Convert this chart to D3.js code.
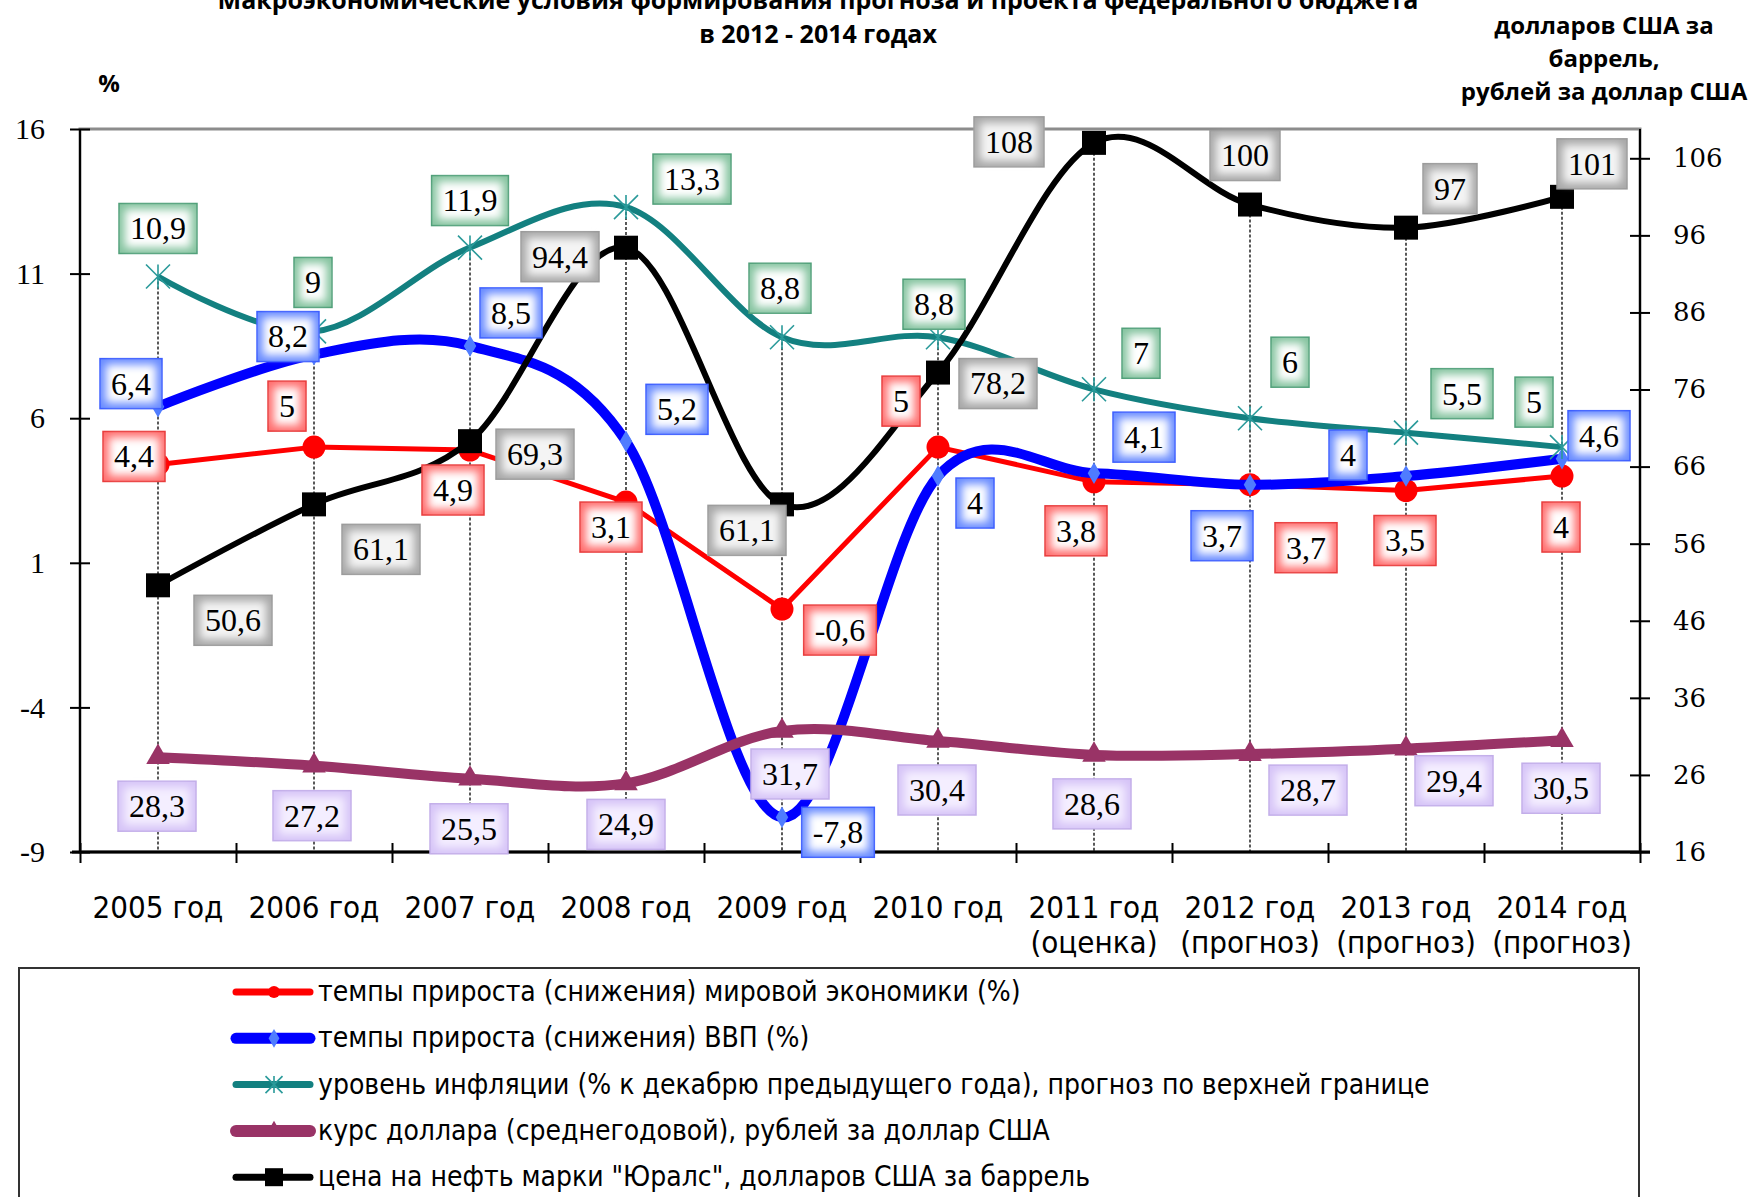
<!DOCTYPE html>
<html>
<head>
<meta charset="utf-8">
<script src="https://cdn.jsdelivr.net/npm/d3@7"></script>
<style>
  body { margin: 0; background: #fff; }
  svg { display: block; }
</style>
</head>
<body>
<svg id="chart" width="1758" height="1197"></svg>
<script>
// categories and values
const years = ['2005 год', '2006 год', '2007 год', '2008 год', '2009 год', '2010 год', '2011 год', '2012 год', '2013 год', '2014 год'];
const yearNotes = ['', '', '', '', '', '', '(оценка)', '(прогноз)', '(прогноз)', '(прогноз)'];

const worldGrowth = [4.4, 5, 4.9, 3.1, -0.6, 5, 3.8, 3.7, 3.5, 4];
const gdpGrowth   = [6.4, 8.2, 8.5, 5.2, -7.8, 4, 4.1, 3.7, 4, 4.6];
const inflation   = [10.9, 9, 11.9, 13.3, 8.8, 8.8, 7, 6, 5.5, 5];
const usdRate     = [28.3, 27.2, 25.5, 24.9, 31.7, 30.4, 28.6, 28.7, 29.4, 30.5];
const uralsPrice  = [50.6, 61.1, 69.3, 94.4, 61.1, 78.2, 108, 100, 97, 101];

const leftTicks  = [-9, -4, 1, 6, 11, 16];
const rightTicks = [16, 26, 36, 46, 56, 66, 76, 86, 96, 106];

const legendNames = [
  'темпы прироста  (снижения) мировой экономики (%)',
  'темпы прироста (снижения) ВВП (%)',
  'уровень инфляции (% к декабрю предыдущего года), прогноз по верхней границе',
  'курс доллара (среднегодовой), рублей за доллар США',
  'цена на нефть марки "Юралс", долларов США за баррель'
];

// where each value box sits relative to its point (px)
const redOff    = [[-24,-8],[-27,-41],[-17,40],[-15,25],[58,21],[-37,-46],[-18,49],[56,63],[-1,50],[-1,51]];
const blueOff   = [[-27,-23],[-26,-18],[41,-33],[51,-32],[56,15],[37,27],[50,-36],[-28,51],[-58,-21],[37,-23]];
const greenOff  = [[0,-48],[-1,-49],[0,-47],[66,-28],[-2,-49],[-4,-33],[47,-36],[40,-56],[56,-39],[-28,-45]];
const purpleOff = [[-1,49],[-2,50],[-1,50],[0,41],[8,43],[-1,49],[-2,49],[58,36],[48,32],[-1,48]];
const grayOff   = [[75,35],[67,45],[65,13],[-66,9],[-35,26],[60,11],[-85,-1],[-5,-49],[44,-39],[30,-33]];

const serifFont = "'Liberation Serif', 'Times New Roman', serif";
const narrowFont = "'Liberation Sans Narrow', 'DejaVu Sans Condensed', 'Roboto', sans-serif";
const boldFont = "'Open Sans', 'DejaVu Sans', sans-serif";

const svg = d3.select('#chart');
const plotL = 80, plotR = 1640, plotT = 129, plotB = 852;

const x = d3.scaleBand().domain(years).range([plotL, plotR]);
const xb = d3.scaleLinear().domain([0, years.length]).range([plotL, plotR]);
const yL = d3.scaleLinear().domain([-9, 16]).range([plotB, plotT]);
const yR = d3.scaleLinear().domain([16, 109.8]).range([plotB, plotT]);
const cx = i => x(years[i]) + x.bandwidth() / 2;

// star marker like excel: x plus vertical stroke
function starPath(s) {
  const h = s / 2;
  return `M${-h},${-h}L${h},${h}M${-h},${h}L${h},${-h}M0,${-h}L0,${h}`;
}

const series = [
  {values: worldGrowth, y: yL, color: '#ff0000', width: 5, curve: d3.curveLinear,
   marker: 'circle', mcolor: '#ff0000', off: redOff, box: 'red', lw: 7},
  {values: gdpGrowth, y: yL, color: '#0000ff', width: 10, curve: d3.curveCatmullRom.alpha(0),
   marker: 'diamond', mcolor: '#4f7cff', off: blueOff, box: 'blue', lw: 11},
  {values: inflation, y: yL, color: '#138080', width: 6, curve: d3.curveCatmullRom.alpha(0),
   marker: 'star', mcolor: '#2a9a9a', off: greenOff, box: 'green', lw: 7},
  {values: usdRate, y: yR, color: '#993366', width: 10, curve: d3.curveCatmullRom.alpha(0),
   marker: 'triangle', mcolor: '#993366', off: purpleOff, box: 'purple', lw: 12},
  {values: uralsPrice, y: yR, color: '#000000', width: 6, curve: d3.curveCatmullRom.alpha(0),
   marker: 'square', mcolor: '#000000', off: grayOff, box: 'gray', lw: 7}
];

const boxStyles = {
  red:    {edge: '#ff7070', stroke: '#e83a3a', inner: '#ffffff'},
  blue:   {edge: '#6a8cff', stroke: '#3a5cff', inner: '#ffffff'},
  green:  {edge: '#86c4a0', stroke: '#4f9f78', inner: '#ffffff'},
  purple: {edge: '#d6c4f7', stroke: '#c2ade9', inner: '#f4eeff'},
  gray:   {edge: '#a8a8a8', stroke: '#9a9a9a', inner: '#f4f4f4'}
};

const defs = svg.append('defs');
defs.append('filter').attr('id', 'soft')
  .attr('x', '-30%').attr('y', '-40%').attr('width', '160%').attr('height', '180%')
  .append('feGaussianBlur').attr('stdDeviation', 4);

function drawMarker(g, type, color, size, px, py) {
  if (type === 'star') {
    g.append('path').attr('d', starPath(size)).attr('transform', `translate(${px},${py})`)
      .attr('stroke', color).attr('stroke-width', 1.6).attr('fill', 'none');
    return;
  }
  const types = {circle: d3.symbolCircle, diamond: d3.symbolDiamond, triangle: d3.symbolTriangle, square: d3.symbolSquare};
  const area = type === 'circle' ? Math.PI * (size / 2) * (size / 2) : type === 'square' ? size * size : size * size * 0.6;
  g.append('path').attr('d', d3.symbol(types[type], area)())
    .attr('transform', `translate(${px},${py})`).attr('fill', color);
}

// title (first line is cut by the top edge in the original too)
svg.append('text').attr('x', 818).attr('y', 9).attr('text-anchor', 'middle')
  .style('font', `bold 25px ${boldFont}`)
  .text('Макроэкономические условия формирования прогноза и проекта федерального бюджета');
svg.append('text').attr('x', 818).attr('y', 43).attr('text-anchor', 'middle')
  .style('font', `bold 25px ${boldFont}`).text('в 2012 - 2014 годах');

svg.append('text').attr('x', 109).attr('y', 92).attr('text-anchor', 'middle')
  .style('font', `bold 24px ${boldFont}`).text('%');
['долларов США за', 'баррель,', 'рублей за доллар США'].forEach((t, i) => {
  svg.append('text').attr('x', 1604).attr('y', 34 + i * 33).attr('text-anchor', 'middle')
    .style('font', `bold 24px ${boldFont}`).text(t);
});

// plot frame (grey top edge)
svg.append('rect').attr('x', plotL).attr('y', plotT).attr('width', plotR - plotL).attr('height', plotB - plotT)
  .attr('fill', 'none').attr('stroke', '#8c8c8c').attr('stroke-width', 3);

// drop lines from the highest point of each year
const dropG = svg.append('g');
years.forEach((yr, i) => {
  const topY = d3.min(series, s => s.y(s.values[i]));
  dropG.append('line').attr('x1', cx(i)).attr('x2', cx(i)).attr('y1', topY).attr('y2', plotB)
    .attr('stroke', '#000').attr('stroke-width', 1.3).attr('stroke-dasharray', '3,2');
});

// axes
const axL = svg.append('g').attr('transform', `translate(${plotL},0)`)
  .call(d3.axisLeft(yL).tickValues(leftTicks).tickSize(10).tickPadding(25).tickFormat(d => String(d)));
axL.selectAll('.tick line').attr('x1', 10).attr('stroke-width', 2);
axL.select('.domain').attr('stroke-width', 2).attr('d', `M0,${plotT}V${plotB}`);
axL.selectAll('.tick text').style('font', `30px ${serifFont}`).attr('fill', '#000');

const axR = svg.append('g').attr('transform', `translate(${plotR},0)`)
  .call(d3.axisRight(yR).tickValues(rightTicks).tickSize(10).tickPadding(23));
axR.selectAll('.tick line').attr('x1', -10).attr('stroke-width', 2);
axR.select('.domain').attr('stroke-width', 2).attr('d', `M0,${plotT}V${plotB}`);
axR.selectAll('.tick text').style('font', `26px 'DejaVu Serif', serif`).attr('fill', '#000');

const axB = svg.append('g').attr('transform', `translate(0,${plotB})`)
  .call(d3.axisBottom(xb).tickValues(d3.range(years.length + 1)).tickSize(11).tickFormat(''));
axB.selectAll('.tick line').attr('y1', -9).attr('stroke-width', 2);
axB.select('.domain').attr('stroke-width', 3).attr('d', `M${plotL - 8},0H${plotR + 10}`);

const axC = svg.append('g').attr('transform', `translate(0,${plotB})`)
  .call(d3.axisBottom(x).tickSize(0).tickPadding(0));
axC.select('.domain').remove();
axC.selectAll('.tick text').each(function(d, i) {
  const t = d3.select(this).text(null).attr('y', 0).attr('dy', null)
    .style('font', `31px ${narrowFont}`).attr('fill', '#000');
  t.append('tspan').attr('x', 0).attr('y', 66).text(d);
  if (yearNotes[i]) t.append('tspan').attr('x', 0).attr('y', 101).text(yearNotes[i]);
});

// lines and markers
series.forEach(s => {
  const line = d3.line().x((v, i) => cx(i)).y(v => s.y(v)).curve(s.curve);
  const g = svg.append('g');
  g.append('path').attr('d', line(s.values)).attr('fill', 'none')
    .attr('stroke', s.color).attr('stroke-width', s.width).attr('stroke-linejoin', 'round');
  const msize = {circle: 23, diamond: 15, star: 24, triangle: 20, square: 24}[s.marker];
  s.values.forEach((v, i) => drawMarker(g, s.marker, s.mcolor, msize, cx(i), s.y(v)));
});

// value boxes
const labelG = svg.append('g');
series.forEach(s => {
  const st = boxStyles[s.box];
  s.values.forEach((v, i) => {
    const px = cx(i) + s.off[i][0], py = s.y(v) + s.off[i][1];
    const g = labelG.append('g').attr('transform', `translate(${px},${py})`);
    const txt = g.append('text').attr('text-anchor', 'middle').attr('dy', '0.34em')
      .style('font', `32px ${serifFont}`).attr('fill', '#000')
      .text(String(v).replace('.', ','));
    const w = txt.node().getComputedTextLength() + 22, h = 50;
    g.insert('rect', 'text').attr('x', -w / 2).attr('y', -h / 2).attr('width', w).attr('height', h)
      .attr('fill', st.edge).attr('stroke', st.stroke).attr('stroke-width', 1.5);
    g.insert('rect', 'text').attr('x', -w / 2 + 6).attr('y', -h / 2 + 6).attr('width', w - 12).attr('height', h - 12)
      .attr('fill', st.inner).attr('filter', 'url(#soft)');
  });
});

// legend
svg.append('rect').attr('x', 19).attr('y', 968).attr('width', 1620).attr('height', 260)
  .attr('fill', '#fff').attr('stroke', '#333').attr('stroke-width', 2);
const legendMarks = [12, 13, 17, 15, 18];
series.forEach((s, i) => {
  const ly = 992 + i * 46.3;
  const g = svg.append('g');
  g.append('line').attr('x1', 236).attr('x2', 310).attr('y1', ly).attr('y2', ly)
    .attr('stroke', s.color).attr('stroke-width', s.lw).attr('stroke-linecap', 'round');
  drawMarker(g, s.marker, s.mcolor, legendMarks[i], 274, ly);
  g.append('text').attr('x', 318).attr('y', ly).attr('dy', '0.32em')
    .style('font', `28px ${narrowFont}`).attr('fill', '#000').text(legendNames[i]);
});
</script>
</body>
</html>
